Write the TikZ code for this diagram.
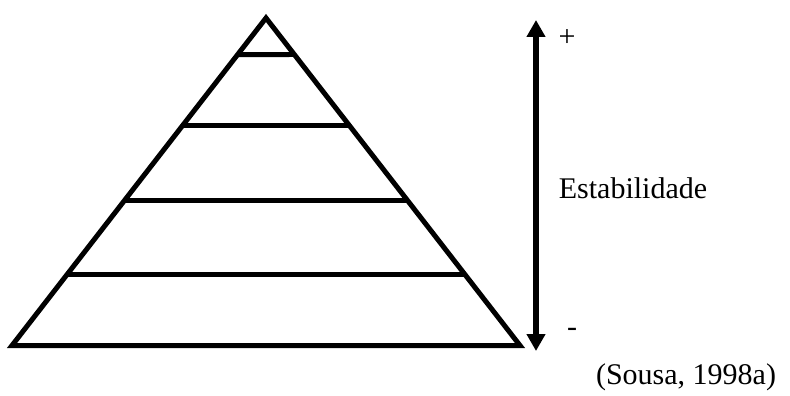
\documentclass[tikz,border=0pt]{standalone}
\usepackage{fontspec}
\setmainfont{Liberation Serif}
\usetikzlibrary{arrows.meta,calc,intersections}
\tikzset{
  pyr/.style={line width=5pt, line join=miter},
  lvl/.style={line width=5pt},
  lbl/.style={font=\fontsize{30}{34}\selectfont, inner sep=0pt},
  stab/.style={line width=6pt, {Triangle[width=18pt,length=17pt]}-{Triangle[width=18pt,length=17pt]}}
}
\begin{document}
\begin{tikzpicture}[x=1pt,y=-1pt]
\useasboundingbox (0,0) rectangle (790,396);
\coordinate (apex) at (266,18);
\coordinate (bl) at (12,345.5);
\coordinate (br) at (520,345.5);
\draw[pyr, name path=left] (bl) -- (apex) -- (br) -- cycle;
\path[name path=right] (apex) -- (br);
\foreach \y/\n in {54.5/a,125/b,200/c,274.5/d}{
  \path[name path=h\n] (0,\y) -- (790,\y);
  \path[name intersections={of=left and h\n, by={l\n}}];
  \path[name intersections={of=right and h\n, by={r\n}}];
  \draw[lvl] (l\n) -- (r\n);
}
\coordinate (top) at (536,20);
\coordinate (bot) at (536,351);
\draw[stab] (bot) -- (top);
\node[lbl] (plus) at (567,38) {+};
\node[lbl] (minus) at (572,332) {-};
\node[lbl] (est) at (633,188) {Estabilidade};
\node[lbl] (src) at (686,377) {(Sousa, 1998a)};
\end{tikzpicture}
\end{document}
